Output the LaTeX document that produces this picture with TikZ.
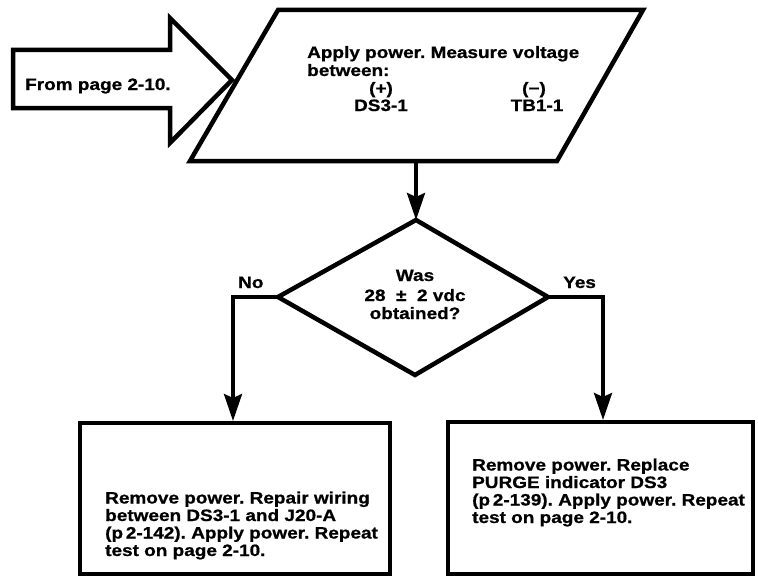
\documentclass[tikz,border=0pt]{standalone}
\usepackage{fontspec}
\newfontfamily\lblfont[FakeStretch=1.15,FakeBold=0.8]{Liberation Sans Bold}
\usetikzlibrary{arrows.meta}
\frenchspacing
\tikzset{
  outline/.style={draw=black, line width=4.5pt, line join=miter},
  conn/.style={draw=black, line width=3.5pt, -{Stealth[length=27pt,width=18pt,inset=4pt]}},
  txt/.style={inner sep=0pt, font=\lblfont\fontsize{16.5}{17.5}\selectfont\frenchspacing, align=left},
}
\begin{document}
\begin{tikzpicture}[x=1pt,y=-1pt]
\useasboundingbox (0,0) rectangle (758,578);
% entry arrow
\draw[outline] (13,50) -- (170,50) -- (170,18) -- (232,80) -- (170,143) -- (170,108) -- (13,108) -- cycle;
\node[txt, anchor=base west] (from) at (25,90) {From page 2-10.};
% parallelogram
\coordinate (pTL) at (278,10);
\coordinate (pTR) at (643,10);
\coordinate (pBR) at (557,161);
\coordinate (pBL) at (190,161);
\draw[outline] (pTL) -- (pTR) -- (pBR) -- (pBL) -- cycle;
\coordinate (pout) at (416,163);
\node[txt, anchor=base west] (meas1) at (307,58) {Apply power. Measure voltage};
\node[txt, anchor=base west] (meas2) at (307,76) {between:};
\node[txt, anchor=base] (plus) at (381,94) {(+)};
\node[txt, anchor=base] (ds) at (381,111) {DS3-1};
\node[txt, anchor=base] (minus) at (534,94) {(−)};
\node[txt, anchor=base] (tb) at (537,111) {TB1-1};
% diamond
\coordinate (dT) at (416,220);
\coordinate (dL) at (278,297);
\coordinate (dR) at (548,297);
\coordinate (dB) at (415,375);
\draw[outline] (dT) -- (dR) -- (dB) -- (dL) -- cycle;
\node[txt, anchor=base] (q1) at (415,281) {Was};
\node[txt, anchor=base] (q2) at (415,301) {28 \ ± \ 2 vdc};
\node[txt, anchor=base] (q3) at (415,319) {obtained?};
\draw[conn] (pout) -- (dT);
% labels
\node[txt, anchor=base west] (no) at (238,288) {No};
\node[txt, anchor=base west] (yes) at (563,288) {Yes};
% boxes
\coordinate (lTL) at (80,423);
\coordinate (lBR) at (390,574);
\coordinate (rTL) at (448,422);
\coordinate (rBR) at (753,574);
\draw[outline] (lTL) rectangle (lBR);
\draw[outline] (rTL) rectangle (rBR);
\coordinate (lin) at (233,421);
\coordinate (rin) at (603,420);
\coordinate (lc) at (233,297);
\coordinate (rc) at (603,297);
\draw[conn] (dL) -- (lc) -- (lin);
\draw[conn] (dR) -- (rc) -- (rin);
\node[txt, anchor=base west] (left) at (105,556) {Remove power. Repair wiring\\between DS3-1 and J20-A\\(p\,2-142). Apply power. Repeat\\test on page 2-10.};
\node[txt, anchor=base west] (right) at (472,523) {Remove power. Replace\\PURGE indicator DS3\\(p\,2-139). Apply power. Repeat\\test on page 2-10.};
\end{tikzpicture}
\end{document}
